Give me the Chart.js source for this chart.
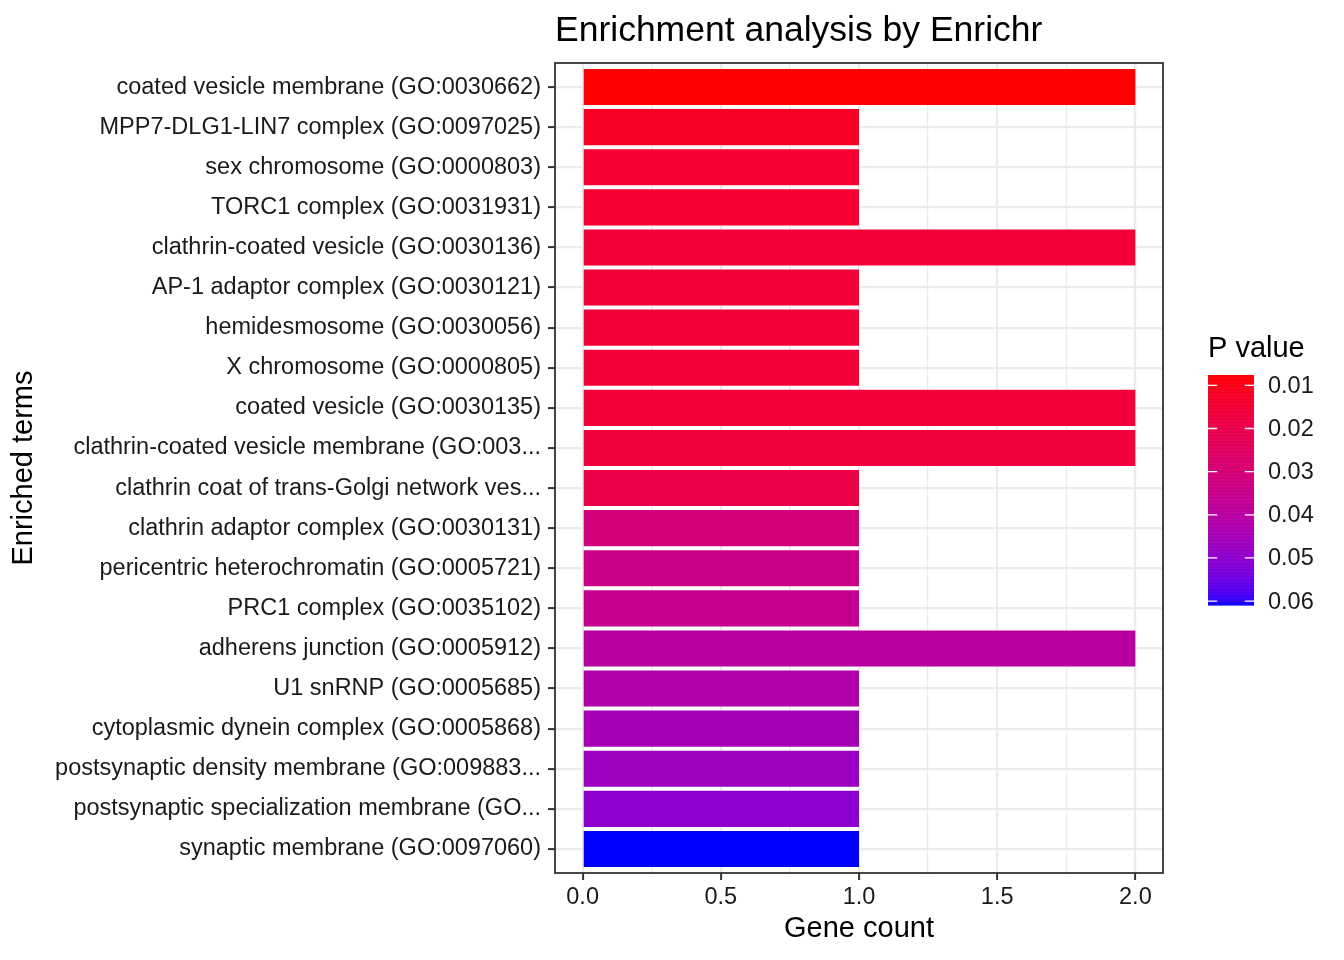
<!DOCTYPE html>
<html>
<head>
<meta charset="utf-8">
<script src="https://cdn.jsdelivr.net/npm/chart.js@4"></script>
<style>
  html, body { margin: 0; padding: 0; background: #fff; }
  #wrap { width: 1344px; height: 960px; position: relative; }
</style>
</head>
<body>
<div id="wrap"><canvas id="chart"></canvas></div>
<script>
const terms = [
    'coated vesicle membrane (GO:0030662)',
    'MPP7-DLG1-LIN7 complex (GO:0097025)',
    'sex chromosome (GO:0000803)',
    'TORC1 complex (GO:0031931)',
    'clathrin-coated vesicle (GO:0030136)',
    'AP-1 adaptor complex (GO:0030121)',
    'hemidesmosome (GO:0030056)',
    'X chromosome (GO:0000805)',
    'coated vesicle (GO:0030135)',
    'clathrin-coated vesicle membrane (GO:003...',
    'clathrin coat of trans-Golgi network ves...',
    'clathrin adaptor complex (GO:0030131)',
    'pericentric heterochromatin (GO:0005721)',
    'PRC1 complex (GO:0035102)',
    'adherens junction (GO:0005912)',
    'U1 snRNP (GO:0005685)',
    'cytoplasmic dynein complex (GO:0005868)',
    'postsynaptic density membrane (GO:009883...',
    'postsynaptic specialization membrane (GO...',
    'synaptic membrane (GO:0097060)'
];
const geneCounts = [2, 1, 1, 1, 2, 1, 1, 1, 2, 2, 1, 1, 1, 1, 2, 1, 1, 1, 1, 1];
const pValues = [0.0076, 0.012, 0.014, 0.014, 0.0155, 0.016, 0.016, 0.016, 0.016, 0.0165,
                 0.019, 0.031, 0.034, 0.036, 0.040, 0.042, 0.045, 0.047, 0.050, 0.0609];
const xTicks = [0, 0.25, 0.5, 0.75, 1, 1.25, 1.5, 1.75, 2];
const legendTicks = [0.01, 0.02, 0.03, 0.04, 0.05, 0.06];

const FONT = '"Liberation Sans", Arial, Helvetica, sans-serif';

// red -> blue scale, interpolated in Lab like ggplot
const toLin = c => { c /= 255; return c <= 0.04045 ? c / 12.92 : Math.pow((c + 0.055) / 1.055, 2.4); };
const fromLin = c => { const v = c <= 0.0031308 ? 12.92 * c : 1.055 * Math.pow(c, 1 / 2.4) - 0.055; return Math.round(Math.min(1, Math.max(0, v)) * 255); };
const Xn = 0.95047, Yn = 1, Zn = 1.08883;
const f = t => t > 216 / 24389 ? Math.cbrt(t) : (24389 / 27 * t + 16) / 116;
const finv = t => t * t * t > 216 / 24389 ? t * t * t : (116 * t - 16) / (24389 / 27);

const rgbToLab = ([r, g, b]) => {
    r = toLin(r); g = toLin(g); b = toLin(b);
    const x = (0.4124 * r + 0.3576 * g + 0.1805 * b) / Xn;
    const y = (0.2126 * r + 0.7152 * g + 0.0722 * b) / Yn;
    const z = (0.0193 * r + 0.1192 * g + 0.9505 * b) / Zn;
    return [116 * f(y) - 16, 500 * (f(x) - f(y)), 200 * (f(y) - f(z))];
};
const labToRgb = ([L, a, bb]) => {
    const fy = (L + 16) / 116, fx = fy + a / 500, fz = fy - bb / 200;
    const x = finv(fx) * Xn, y = finv(fy) * Yn, z = finv(fz) * Zn;
    const r = 3.2406 * x - 1.5372 * y - 0.4986 * z;
    const g = -0.9689 * x + 1.8758 * y + 0.0415 * z;
    const b = 0.0557 * x - 0.2040 * y + 1.0570 * z;
    return `rgb(${fromLin(r)},${fromLin(g)},${fromLin(b)})`;
};

const labLow = rgbToLab([255, 0, 0]);
const labHigh = rgbToLab([0, 0, 255]);
const pMin = Math.min(...pValues), pMax = Math.max(...pValues);
const pColor = p => {
    const t = (p - pMin) / (pMax - pMin);
    return labToRgb(labLow.map((v, i) => v + (labHigh[i] - v) * t));
};

// panel border + colorbar legend
const extras = {
    id: 'extras',
    afterDatasetsDraw(chart) {
        const { ctx, chartArea: a } = chart;
        ctx.save();
        ctx.strokeStyle = '#333333';
        ctx.lineWidth = 1.8;
        ctx.strokeRect(a.left, a.top, a.right - a.left, a.bottom - a.top);
        ctx.restore();
    },
    afterDraw(chart) {
        const { ctx } = chart;
        const x0 = 1208, w = 46, y0 = 375, h = 230;
        const yOf = p => y0 + (p - pMin) / (pMax - pMin) * h;
        ctx.save();
        const nbin = 300;
        for (let i = 0; i < nbin; i++) {
            const p = pMin + (pMax - pMin) * (i + 0.5) / nbin;
            ctx.fillStyle = pColor(p);
            ctx.fillRect(x0, y0 + h * i / nbin, w, h / nbin + 0.6);
        }
        ctx.strokeStyle = '#ffffff';
        ctx.lineWidth = 1.3;
        ctx.fillStyle = '#1a1a1a';
        ctx.font = '23.5px ' + FONT;
        ctx.textBaseline = 'middle';
        ctx.textAlign = 'left';
        legendTicks.forEach(t => {
            const y = yOf(t);
            ctx.beginPath();
            ctx.moveTo(x0, y); ctx.lineTo(x0 + w / 5, y);
            ctx.moveTo(x0 + w - w / 5, y); ctx.lineTo(x0 + w, y);
            ctx.stroke();
            ctx.fillText(t.toFixed(2), 1268, y + 1);
        });
        ctx.font = '29px ' + FONT;
        ctx.textBaseline = 'alphabetic';
        ctx.fillStyle = '#000';
        ctx.fillText('P value', 1208, 357);
        ctx.restore();
    }
};

const isMajor = v => Math.abs(v * 2 - Math.round(v * 2)) < 1e-6;

const ctx = document.getElementById('chart').getContext('2d');
new Chart(ctx, {
    type: 'bar',
    data: {
        datasets: [{
            label: 'Gene count',
            data: geneCounts.map((c, i) => ({ x: c, y: i })),
            backgroundColor: pValues.map(pColor),
            borderWidth: 0,
            barPercentage: 1,
            categoryPercentage: 0.9,
        }],
    },
    options: {
        indexAxis: 'y',
        responsive: true,
        maintainAspectRatio: false,
        animation: false,
        devicePixelRatio: 1,
        layout: { padding: { left: 0, right: 181, top: 0, bottom: 0 } },
        scales: {
            x: {
                type: 'linear',
                min: -0.1,
                max: 2.1,
                afterBuildTicks: scale => { scale.ticks = xTicks.map(v => ({ value: v })); },
                afterFit: scale => { scale.height = 87; },
                border: { display: false },
                grid: {
                    color: '#EBEBEB',
                    lineWidth: c => (c.tick && isMajor(c.tick.value)) ? 2.2 : 1.2,
                    tickColor: c => (c.tick && isMajor(c.tick.value)) ? '#333333' : 'rgba(0,0,0,0)',
                    tickLength: 7,
                    tickWidth: 2,
                },
                ticks: {
                    autoSkip: false,
                    maxRotation: 0,
                    padding: 3,
                    color: '#1a1a1a',
                    font: { family: FONT, size: 23.5 },
                    callback: v => isMajor(v) ? v.toFixed(1) : '',
                },
                title: {
                    display: true,
                    text: 'Gene count',
                    color: '#000',
                    font: { family: FONT, size: 29 },
                    padding: { top: 0, bottom: 14 },
                },
            },
            y: {
                type: 'linear',
                min: -0.6,
                max: terms.length - 0.4,
                reverse: true,
                offset: false,
                afterBuildTicks: scale => { scale.ticks = terms.map((t, i) => ({ value: i })); },
                afterFit: scale => { scale.width = 555; },
                border: { display: false },
                grid: {
                    offset: false,
                    color: '#EBEBEB',
                    lineWidth: 2.2,
                    tickColor: '#333333',
                    tickLength: 7,
                    tickWidth: 2,
                },
                ticks: {
                    autoSkip: false,
                    padding: 7,
                    color: '#1a1a1a',
                    font: { family: FONT, size: 23.5 },
                    callback: v => terms[v],
                },
                title: {
                    display: true,
                    text: 'Enriched terms',
                    color: '#000',
                    font: { family: FONT, size: 29 },
                    padding: { top: 7, bottom: 0 },
                },
            },
        },
        plugins: {
            legend: { display: false },
            tooltip: { enabled: false },
            title: {
                display: true,
                text: 'Enrichment analysis by Enrichr',
                align: 'start',
                fullSize: false,
                color: '#000',
                font: { family: FONT, size: 35.5, weight: 'normal' },
                padding: { top: 10, bottom: 10.4 },
            },
        },
    },
    plugins: [extras],
});
</script>
</body>
</html>
